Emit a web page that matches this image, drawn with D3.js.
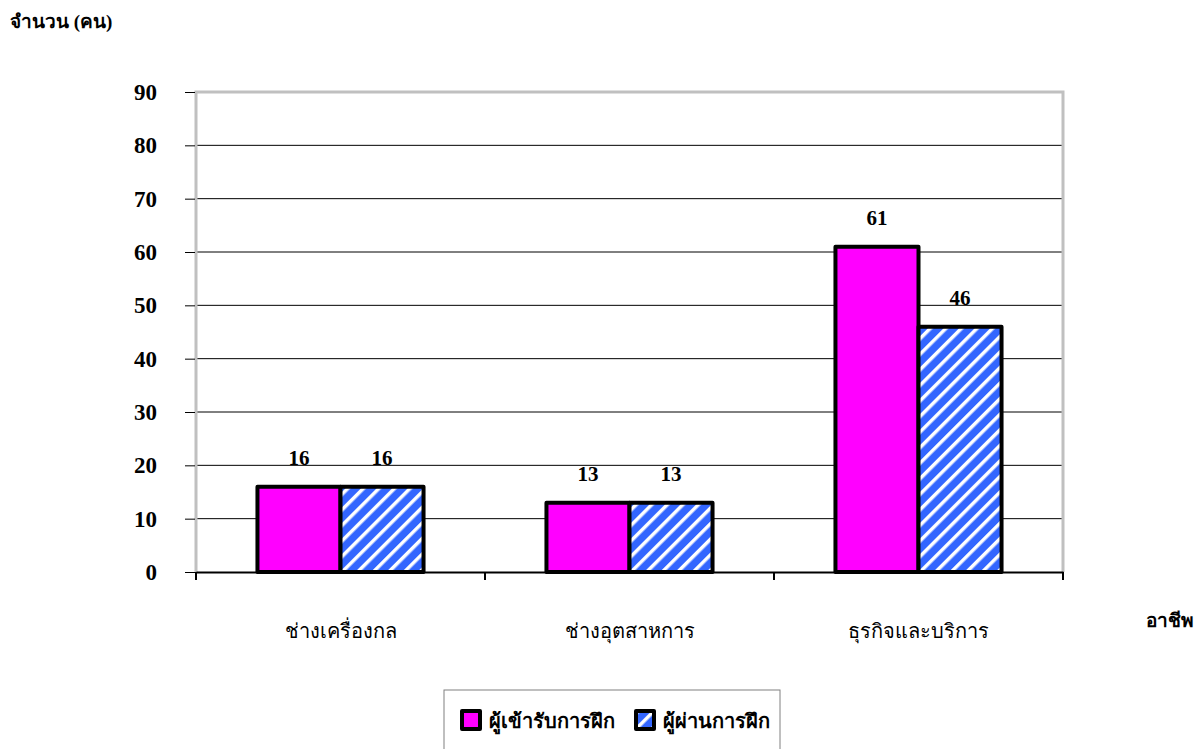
<!DOCTYPE html>
<html lang="th">
<head>
<meta charset="UTF-8">
<title>จำนวนผู้เข้ารับการฝึก</title>
<script src="https://d3js.org/d3.v7.min.js"></script>
<style>
    body { margin: 0; padding: 0; background: #fff; }
    svg text { font-family: 'Liberation Serif', 'DejaVu Serif', serif; fill: #000; }
</style>
</head>
<body>
<div id="chart"></div>
<script>
// data
var categories = ["ช่างเครื่องกล", "ช่างอุตสาหการ", "ธุรกิจและบริการ"];
var seriesNames = ["ผู้เข้ารับการฝึก", "ผู้ผ่านการฝึก"];
var trainees = [16, 13, 61];
var graduates = [16, 13, 46];
var yTicks = [0, 10, 20, 30, 40, 50, 60, 70, 80, 90];

var width = 1202, height = 749;
var plot = { left: 196, right: 1063, top: 92, bottom: 572 };

var svg = d3.select("#chart").append("svg")
    .attr("width", width)
    .attr("height", height);

// striped fill for the second series
var defs = svg.append("defs");
var pat = defs.append("pattern")
    .attr("id", "stripes")
    .attr("patternUnits", "userSpaceOnUse")
    .attr("width", 11)
    .attr("height", 11)
    .attr("patternTransform", "rotate(45)");
pat.append("rect").attr("width", 11).attr("height", 11).attr("fill", "#3366ff");
pat.append("rect").attr("x", 0).attr("width", 3.5).attr("height", 11).attr("fill", "#ffffff");

var colors = ["#ff00ff", "url(#stripes)"];

var x0 = d3.scaleBand()
    .domain(categories)
    .range([plot.left, plot.right])
    .paddingInner(0)
    .paddingOuter(0);

var x1 = d3.scaleBand()
    .domain(seriesNames)
    .range([0, x0.bandwidth()])
    .paddingOuter(0.74)
    .paddingInner(0);

var y = d3.scaleLinear()
    .domain([0, 90])
    .range([plot.bottom, plot.top]);

// gridlines
svg.append("g")
    .selectAll("line")
    .data(yTicks.filter(d => d > 0 && d < 90))
    .enter().append("line")
    .attr("x1", plot.left).attr("x2", plot.right)
    .attr("y1", d => y(d)).attr("y2", d => y(d))
    .style("stroke", "#000")
    .style("stroke-width", 1);

// gray frame (left, top, right)
svg.append("path")
    .attr("d", "M" + plot.left + "," + plot.bottom + "V" + plot.top + "H" + plot.right + "V" + plot.bottom)
    .style("fill", "none")
    .style("stroke", "#c0c0c0")
    .style("stroke-width", 3);

// y axis
var yAxis = svg.append("g")
    .attr("transform", "translate(" + (plot.left - 1) + ",0)")
    .call(d3.axisLeft(y).tickValues(yTicks).tickSize(10).tickPadding(28));
yAxis.select(".domain").remove();
yAxis.selectAll("line").style("stroke", "#000");
yAxis.selectAll("text")
    .style("font-size", "23px")
    .style("font-weight", "bold")
    .attr("text-anchor", "end");

// x axis
var xAxis = svg.append("g")
    .attr("transform", "translate(0," + plot.bottom + ")")
    .call(d3.axisBottom(x0).tickSize(0).tickPadding(52));
xAxis.select(".domain").style("stroke", "#000").style("stroke-width", 2);
xAxis.selectAll("text")
    .style("font-size", "20px");
xAxis.selectAll(".tickmark")
    .data(d3.range(categories.length + 1))
    .enter().append("line")
    .attr("class", "tickmark")
    .attr("x1", i => plot.left + i * x0.step())
    .attr("x2", i => plot.left + i * x0.step())
    .attr("y1", 0).attr("y2", 8)
    .style("stroke", "#000")
    .style("stroke-width", 2);

// bars
var rows = categories.map((c, i) => ({ cat: c, values: [trainees[i], graduates[i]] }));

var groups = svg.append("g")
    .selectAll("g")
    .data(rows)
    .enter().append("g")
    .attr("transform", d => "translate(" + x0(d.cat) + ",0)");

groups.selectAll("rect")
    .data(d => d.values.map((v, j) => ({ name: seriesNames[j], value: v, j: j })))
    .enter().append("rect")
    .attr("x", d => x1(d.name))
    .attr("y", d => y(d.value))
    .attr("width", x1.bandwidth())
    .attr("height", d => y(0) - y(d.value))
    .attr("fill", d => colors[d.j])
    .style("stroke", "#000")
    .style("stroke-width", 4)
    .style("stroke-linejoin", "round");

groups.selectAll(".val")
    .data(d => d.values.map((v, j) => ({ name: seriesNames[j], value: v })))
    .enter().append("text")
    .attr("class", "val")
    .attr("x", d => x1(d.name) + x1.bandwidth() / 2)
    .attr("y", d => y(d.value) - 22)
    .attr("text-anchor", "middle")
    .style("font-size", "21px")
    .style("font-weight", "bold")
    .text(d => d.value);

// axis titles
svg.append("text")
    .attr("x", 10).attr("y", 28)
    .style("font-size", "19px")
    .style("font-weight", "bold")
    .text("จำนวน (คน)");

svg.append("text")
    .attr("x", 1146).attr("y", 627)
    .style("font-size", "19px")
    .style("font-weight", "bold")
    .text("อาชีพ");

// legend
var legend = svg.append("g").attr("transform", "translate(444,690)");
legend.append("rect")
    .attr("width", 336).attr("height", 70)
    .style("fill", "#fff")
    .style("stroke", "#808080")
    .style("stroke-width", 1);

var legendX = [18, 192];
var items = legend.selectAll(".legend-item")
    .data(seriesNames)
    .enter().append("g")
    .attr("class", "legend-item")
    .attr("transform", (d, i) => "translate(" + legendX[i] + ",21)");

items.append("rect")
    .attr("width", 18).attr("height", 18)
    .attr("fill", (d, i) => colors[i])
    .style("stroke", "#000")
    .style("stroke-width", 4)
    .style("stroke-linejoin", "round");

items.append("text")
    .attr("x", 27).attr("y", 17)
    .style("font-size", "20px")
    .style("font-weight", "bold")
    .text(d => d);
</script>
</body>
</html>
